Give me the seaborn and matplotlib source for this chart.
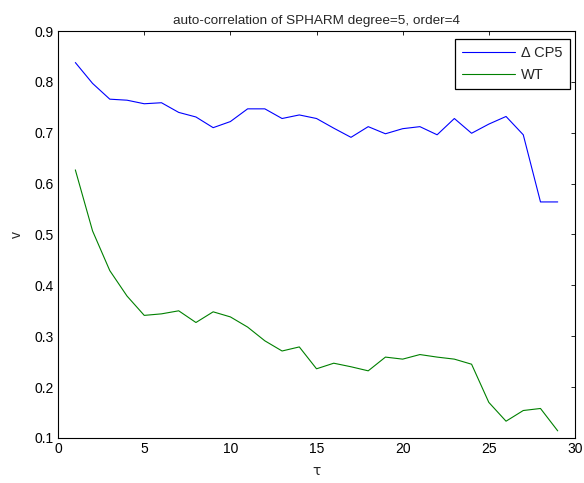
import matplotlib
matplotlib.use("Agg")
import matplotlib.pyplot as plt
import seaborn as sns
import pandas as pd

tau = list(range(1, 30))
cp5 = [0.838, 0.797, 0.766, 0.764, 0.757, 0.759, 0.740, 0.731, 0.710, 0.722,
       0.747, 0.747, 0.728, 0.735, 0.728, 0.709, 0.691, 0.712, 0.698, 0.708,
       0.712, 0.696, 0.728, 0.699, 0.717, 0.732, 0.696, 0.564, 0.564]
wt = [0.627, 0.507, 0.429, 0.379, 0.341, 0.344, 0.350, 0.327, 0.348, 0.338,
      0.318, 0.291, 0.271, 0.279, 0.236, 0.247, 0.240, 0.232, 0.259, 0.255,
      0.264, 0.259, 0.255, 0.245, 0.170, 0.133, 0.154, 0.158, 0.114]
series_names = ["\u0394 CP5", "WT"]
series_colors = ["#0000ff", "#008000"]
x_ticks = [0, 5, 10, 15, 20, 25, 30]
y_ticks = [0.1, 0.2, 0.3, 0.4, 0.5, 0.6, 0.7, 0.8, 0.9]

df = pd.DataFrame({
    "tau": tau * 2,
    "v": cp5 + wt,
    "series": [series_names[0]] * len(tau) + [series_names[1]] * len(tau),
})

sns.set_style("white")
plt.rcParams["font.family"] = ["Liberation Sans", "DejaVu Sans"]

fig = plt.figure(figsize=(5.84, 4.83), dpi=100)
ax = fig.add_axes([0.0995, 0.0932, 0.885, 0.8426])

sns.lineplot(data=df, x="tau", y="v", hue="series",
             palette=dict(zip(series_names, series_colors)),
             linewidth=0.8, ax=ax, legend=True)

ax.set_xlim(0, 30)
ax.set_ylim(0.1, 0.9)
ax.set_xticks(x_ticks)
ax.set_yticks(y_ticks)
ax.set_xticklabels([str(t) for t in x_ticks])
ax.set_yticklabels([f"{t:.1f}" for t in y_ticks])
ax.tick_params(direction="in", length=3, width=0.6, top=True, right=True,
               labelsize=10, pad=3, colors="black")
for s in ax.spines.values():
    s.set_visible(True)
    s.set_color("black")
    s.set_linewidth(0.8)

ax.set_xlabel("\u03c4", fontsize=10, labelpad=6, family=["DejaVu Sans"])
ax.set_ylabel("v", fontsize=10, labelpad=8)
ax.set_title("auto-correlation of SPHARM degree=5, order=4", fontsize=9.7, pad=5)

leg = ax.legend(loc="upper right", bbox_to_anchor=(570 / 584, 1 - 38.5 / 483),
                bbox_transform=fig.transFigure, borderaxespad=0,
                fontsize=10.5, frameon=True, fancybox=False,
                edgecolor="black", framealpha=1, handlelength=3.6,
                handletextpad=0.45, borderpad=0.5, labelspacing=0.55)
leg.get_frame().set_linewidth(0.9)
leg.set_title(None)

fig.savefig("out.png", dpi=100, facecolor="white")
